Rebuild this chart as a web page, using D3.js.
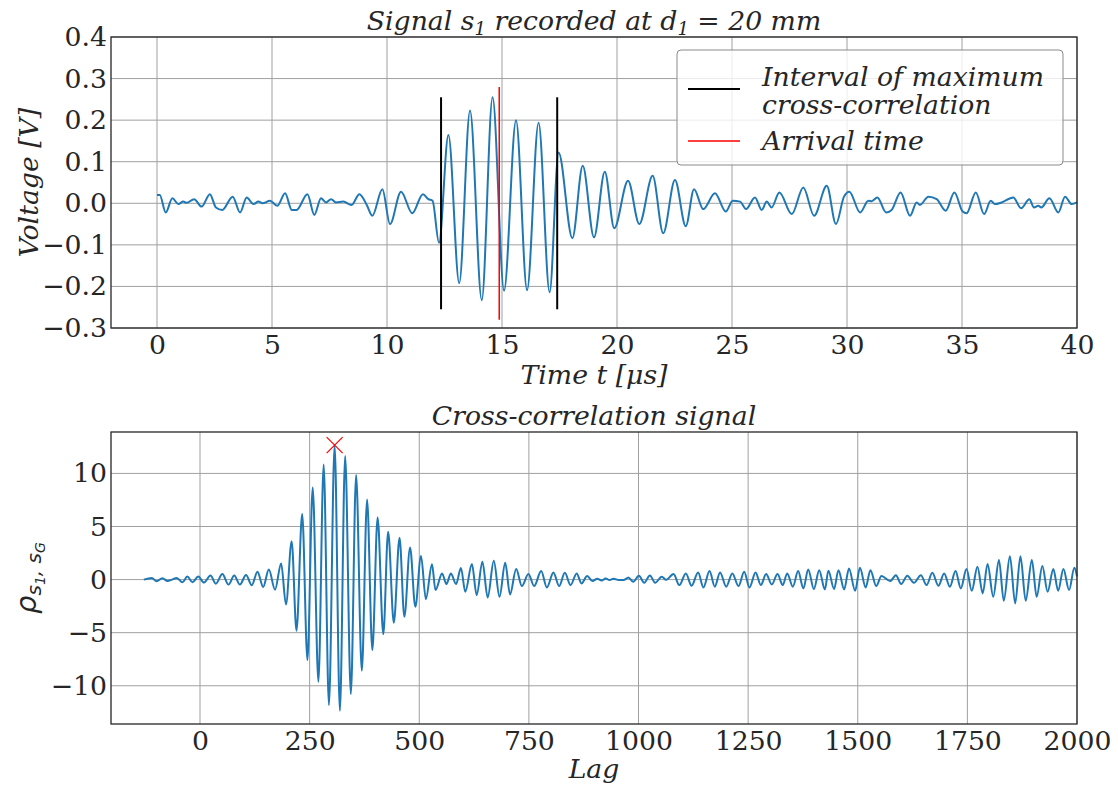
<!DOCTYPE html>
<html lang="en">
<head>
<meta charset="utf-8" />
<title>Signal s1 and cross-correlation</title>
<script src="https://cdn.jsdelivr.net/npm/d3@7"></script>
<style>
  body { margin: 0; background: #fff; }
  text { fill: #262626; }
</style>
</head>
<body>
<svg id="chart" width="1118" height="787"></svg>
<script>
// ---- top panel: recorded signal (turning points) ----
const signalTime = [0, 0.12, 0.38, 0.67, 0.93, 1.14, 1.29, 1.61, 1.94, 2.30, 2.56, 2.84, 3.29, 3.61, 3.90, 4.19, 4.41, 4.59, 4.91, 5.23,
  5.57, 5.86, 6.07, 6.54, 6.84, 7.13, 7.35, 7.57, 7.78, 8.10, 8.46, 8.80, 9.12, 9.36, 9.80, 10.13, 10.61, 11.10, 11.56, 11.80,
  11.98, 12.26, 12.67, 13.14, 13.61, 14.12, 14.59, 15.09, 15.61, 16.09, 16.59, 17.07, 17.46, 18.06, 18.51, 19.0, 19.47, 19.88, 20.48, 20.97,
  21.55, 22.01, 22.52, 22.99, 23.35, 23.75, 24.26, 24.73, 25.03, 25.35, 25.61, 26.0, 26.29, 26.51, 26.72, 27.06, 27.6, 28.1, 28.57, 29.12,
  29.52, 29.87, 30.1, 30.57, 30.93, 31.07, 31.32, 31.7, 31.94, 32.33, 32.74, 33.03, 33.17, 33.54, 33.9, 34.29, 34.67, 35.03, 35.2, 35.6,
  35.96, 36.25, 36.43, 36.72, 37.23, 37.57, 37.93, 38.13, 38.32, 38.45, 38.8, 39.19, 39.48, 39.77, 40.0];
const signalVolt = [0.02, 0.02, -0.022, 0.012, -0.002, 0.004, 0.001, 0.01, -0.008, 0.022, -0.01, -0.016, 0.016, -0.022, 0.014, -0.002, 0.004, 0, 0.006, -0.006,
  0.024, -0.016, -0.016, 0.022, -0.028, 0.012, 0.002, 0.01, 0.002, 0.004, -0.004, 0.022, -0.004, -0.03, 0.034, -0.05, 0.028, -0.024, 0.022, 0.01,
  0.006, -0.095, 0.164, -0.192, 0.223, -0.233, 0.255, -0.21, 0.2, -0.209, 0.194, -0.214, 0.122, -0.084, 0.09, -0.082, 0.076, -0.06, 0.054, -0.05,
  0.066, -0.072, 0.056, -0.055, 0.034, -0.014, 0.024, -0.02, 0.006, 0.004, -0.014, 0.014, -0.016, 0.004, -0.01, 0.026, -0.026, 0.038, -0.03, 0.042,
  -0.05, 0.016, 0.028, -0.022, 0.006, 0.005, 0.014, -0.022, -0.016, 0.026, -0.03, 0.002, -0.004, 0.016, 0.01, -0.018, 0.026, -0.02, -0.024, 0.026,
  -0.026, 0.006, -0.002, 0.002, 0.014, -0.012, 0.01, -0.01, -0.006, -0.01, 0.012, -0.022, 0.016, -0.002, 0.002];
const intervalTimes = [12.35, 17.40];
const intervalHalf = 0.255;
const arrivalTime = 14.88;
const arrivalHalf = 0.28;
const timeTicks = [0, 5, 10, 15, 20, 25, 30, 35, 40];
const voltTicks = [-0.3, -0.2, -0.1, 0, 0.1, 0.2, 0.3, 0.4];

// ---- bottom panel: cross-correlation (turning points) ----
const lagValues = [-128, -110, -99, -86, -74, -64, -53, -40, -29, -17, -4, 9, 24, 36, 51, 65, 78, 91, 105, 118,
  131, 144, 157, 171, 185, 196, 209, 220, 233, 245, 257, 270, 282, 294, 307, 319, 331, 344, 356, 369,
  381, 393, 405, 418, 429, 442, 455, 466, 479, 491, 504, 515, 529, 537, 552, 562, 572, 584, 595, 605,
  620, 631, 644, 656, 670, 683, 696, 707, 721, 734, 749, 762, 778, 791, 806, 819, 832, 845, 859, 870,
  883, 895, 906, 916, 925, 934, 943, 955, 966, 977, 988, 1001, 1013, 1026, 1038, 1053, 1063, 1080, 1093, 1108,
  1121, 1136, 1148, 1162, 1174, 1186, 1200, 1214, 1228, 1241, 1253, 1267, 1279, 1291, 1304, 1317, 1329, 1339, 1352, 1364,
  1376, 1387, 1400, 1412, 1425, 1433, 1446, 1456, 1469, 1480, 1494, 1505, 1518, 1529, 1542, 1554, 1574, 1587, 1599, 1613,
  1628, 1644, 1657, 1670, 1684, 1697, 1710, 1723, 1735, 1748, 1760, 1773, 1785, 1796, 1809, 1822, 1833, 1847, 1859, 1871,
  1883, 1897, 1908, 1921, 1933, 1946, 1957, 1969, 1982, 1994, 2000];
const corrValues = [0, 0.16, -0.16, 0.13, -0.13, 0, 0.16, -0.25, 0.28, -0.25, 0.28, -0.28, 0.38, -0.38, 0.53, -0.47, 0.38, -0.47, 0.44, -0.53,
  0.75, -0.69, 0.94, -0.95, 1.52, -2.34, 3.62, -4.82, 6.17, -7.58, 8.68, -9.62, 10.84, -11.82, 12.66, -12.35, 11.63, -10.78, 9.84, -8.58,
  7.55, -6.64, 5.85, -5.13, 4.5, -4.07, 3.93, -3.5, 3.03, -2.56, 2.23, -1.84, 1.44, -0.99, 0.58, -0.42, 0.58, -0.42, 1.1, -1.15,
  1.46, -1.46, 1.68, -1.68, 1.77, -1.62, 1.58, -1.4, 0.99, -0.61, 0.52, -0.61, 0.8, -0.74, 0.67, -0.61, 0.64, -0.52, 0.58, -0.36,
  0.33, -0.14, 0.08, -0.08, 0.11, -0.05, 0.08, -0.05, -0.05, 0.2, -0.2, 0.36, -0.3, 0.39, -0.3, 0.27, -0.02, 0.52, -0.52, 0.58,
  -0.58, 0.67, -0.74, 0.8, -0.67, 0.67, -0.67, 0.58, -0.61, 0.74, -0.74, 0.67, -0.52, 0.52, -0.46, 0.52, -0.52, 0.58, -0.67, 0.8,
  -0.83, 0.96, -0.89, 0.89, -0.93, 0.83, -0.89, 0.89, -0.93, 1.05, -1.05, 1.11, -0.74, 0.89, -0.61, 0.33, -0.14, 0.42, -0.42, 0.36,
  -0.3, 0.42, -0.52, 0.64, -0.58, 0.58, -0.67, 0.8, -0.83, 0.99, -1.05, 1.21, -1.3, 1.46, -1.62, 1.84, -1.99, 2.21, -2.24, 2.21,
  -1.99, 1.84, -1.62, 1.27, -1.15, 0.99, -1.05, 0.99, -0.99, 1.11, 0.3];
const peakLag = 307;
const peakCorr = 12.66;
const lagTicks = [0, 250, 500, 750, 1000, 1250, 1500, 1750, 2000];
const corrTicks = [-10, -5, 0, 5, 10];

const blue = "#1f77b4";
const serif = "DejaVu Serif";
const fs = "26.7px";
const svg = d3.select("#chart");

// plot boxes
const boxTop = { left: 111, right: 1077, top: 37, bottom: 328 };
const boxBot = { left: 111, right: 1077, top: 432, bottom: 724 };

const xTop = d3.scaleLinear().domain([-2, 40]).range([boxTop.left, boxTop.right]);
const yTop = d3.scaleLinear().domain([-0.3, 0.4]).range([boxTop.bottom, boxTop.top]);
const xBot = d3.scaleLinear().domain([-203, 2000]).range([boxBot.left, boxBot.right]);
const yBot = d3.scaleLinear().domain([-13.6, 13.9]).range([boxBot.bottom, boxBot.top]);

function drawFrame(box, x, y, xt, yt, yfmt) {
  const g = svg.append("g");
  // grid
  g.selectAll(".vg").data(xt).enter().append("line")
    .attr("x1", d => x(d)).attr("x2", d => x(d))
    .attr("y1", box.top).attr("y2", box.bottom)
    .attr("stroke", "#a0a0a0").attr("stroke-width", 1);
  g.selectAll(".hg").data(yt).enter().append("line")
    .attr("y1", d => y(d)).attr("y2", d => y(d))
    .attr("x1", box.left).attr("x2", box.right)
    .attr("stroke", "#a0a0a0").attr("stroke-width", 1);

  // axes (labels only, no tick marks)
  const ax = g.append("g")
    .attr("transform", `translate(0,${box.bottom})`)
    .call(d3.axisBottom(x).tickValues(xt).tickSize(0).tickPadding(7).tickFormat(d3.format("d")));
  const ay = g.append("g")
    .attr("transform", `translate(${box.left},0)`)
    .call(d3.axisLeft(y).tickValues(yt).tickSize(0).tickPadding(4).tickFormat(yfmt));
  [ax, ay].forEach(a => {
    a.select(".domain").remove();
    a.selectAll("text")
      .attr("font-family", serif)
      .attr("font-size", fs)
      .attr("fill", "#262626");
  });
  return g;
}

function drawBorder(box) {
  svg.append("rect")
    .attr("x", box.left).attr("y", box.top)
    .attr("width", box.right - box.left).attr("height", box.bottom - box.top)
    .attr("fill", "none").attr("stroke", "#262626").attr("stroke-width", 1.3);
}

// ================= top panel =================
drawFrame(boxTop, xTop, yTop, timeTicks, voltTicks, d3.format(".1f"));

const sigLine = d3.line()
  .x((d, i) => xTop(signalTime[i]))
  .y(d => yTop(d))
  .curve(d3.curveMonotoneX);

svg.append("path")
  .datum(signalVolt)
  .attr("d", sigLine)
  .attr("fill", "none")
  .attr("stroke", blue)
  .attr("stroke-width", 2);

svg.selectAll(".interval").data(intervalTimes).enter().append("line")
  .attr("x1", d => xTop(d)).attr("x2", d => xTop(d))
  .attr("y1", yTop(intervalHalf)).attr("y2", yTop(-intervalHalf))
  .attr("stroke", "#000").attr("stroke-width", 2);

svg.append("line")
  .attr("x1", xTop(arrivalTime)).attr("x2", xTop(arrivalTime))
  .attr("y1", yTop(arrivalHalf)).attr("y2", yTop(-arrivalHalf))
  .attr("stroke", "#ff0000").attr("stroke-width", 1.5);

drawBorder(boxTop);

// title with subscripts
const t1 = svg.append("text")
  .attr("x", (boxTop.left + boxTop.right) / 2).attr("y", 30)
  .attr("text-anchor", "middle")
  .attr("font-family", serif).attr("font-style", "italic").attr("font-size", fs);
t1.append("tspan").text("Signal s");
t1.append("tspan").attr("font-size", "18px").attr("dy", 5).text("1");
t1.append("tspan").attr("dy", -5).text(" recorded at d");
t1.append("tspan").attr("font-size", "18px").attr("dy", 5).text("1");
t1.append("tspan").attr("dy", -5).text(" = 20 mm");

svg.append("text")
  .attr("x", (boxTop.left + boxTop.right) / 2).attr("y", 384)
  .attr("text-anchor", "middle")
  .attr("font-family", serif).attr("font-style", "italic").attr("font-size", fs)
  .text("Time t [μs]");

svg.append("text")
  .attr("transform", `translate(38,${(boxTop.top + boxTop.bottom) / 2}) rotate(-90)`)
  .attr("text-anchor", "middle")
  .attr("font-family", serif).attr("font-style", "italic").attr("font-size", fs)
  .text("Voltage [V]");

// legend
const legend = svg.append("g");
legend.append("rect")
  .attr("x", 677).attr("y", 50).attr("width", 386).attr("height", 115)
  .attr("rx", 4)
  .attr("fill", "#fff").attr("fill-opacity", 0.8)
  .attr("stroke", "#8a8a8a").attr("stroke-width", 1);
const legendItems = [
  { color: "#000", width: 2, y: 89, lines: ["Interval of maximum", "cross-correlation"], ty: 86 },
  { color: "#ff0000", width: 1.5, y: 141, lines: ["Arrival time"], ty: 150 }
];
legendItems.forEach(it => {
  legend.append("line")
    .attr("x1", 688).attr("x2", 740).attr("y1", it.y).attr("y2", it.y)
    .attr("stroke", it.color).attr("stroke-width", it.width);
  it.lines.forEach((s, i) => {
    legend.append("text")
      .attr("x", 762).attr("y", it.ty + i * 28)
      .attr("font-family", serif).attr("font-style", "italic").attr("font-size", fs)
      .text(s);
  });
});

// ================= bottom panel =================
drawFrame(boxBot, xBot, yBot, lagTicks, corrTicks, d3.format("d"));

const corrLine = d3.line()
  .x((d, i) => xBot(lagValues[i]))
  .y(d => yBot(d))
  .curve(d3.curveMonotoneX);

svg.append("path")
  .datum(corrValues)
  .attr("d", corrLine)
  .attr("fill", "none")
  .attr("stroke", blue)
  .attr("stroke-width", 2);

// peak marker
const mx = xBot(peakLag), my = yBot(peakCorr), ms = 8;
svg.append("path")
  .attr("d", `M${mx - ms},${my - ms}L${mx + ms},${my + ms}M${mx - ms},${my + ms}L${mx + ms},${my - ms}`)
  .attr("stroke", "#ff0000").attr("stroke-width", 1.2).attr("fill", "none");

drawBorder(boxBot);

svg.append("text")
  .attr("x", (boxBot.left + boxBot.right) / 2).attr("y", 425)
  .attr("text-anchor", "middle")
  .attr("font-family", serif).attr("font-style", "italic").attr("font-size", fs)
  .text("Cross-correlation signal");

svg.append("text")
  .attr("x", (boxBot.left + boxBot.right) / 2).attr("y", 778)
  .attr("text-anchor", "middle")
  .attr("font-family", serif).attr("font-style", "italic").attr("font-size", fs)
  .text("Lag");

const yl = svg.append("text")
  .attr("transform", `translate(36,${(boxBot.top + boxBot.bottom) / 2}) rotate(-90)`)
  .attr("text-anchor", "middle")
  .attr("font-family", "DejaVu Sans").attr("font-style", "italic").attr("font-size", "29px");
yl.append("tspan").text("ρ");
yl.append("tspan").attr("font-size", "20px").attr("dy", 5).text("s");
yl.append("tspan").attr("font-size", "14px").attr("dy", 4).text("1");
yl.append("tspan").attr("font-size", "20px").attr("dy", -4).text(", s");
yl.append("tspan").attr("font-size", "14px").attr("dy", 4).text("G");
</script>
</body>
</html>
